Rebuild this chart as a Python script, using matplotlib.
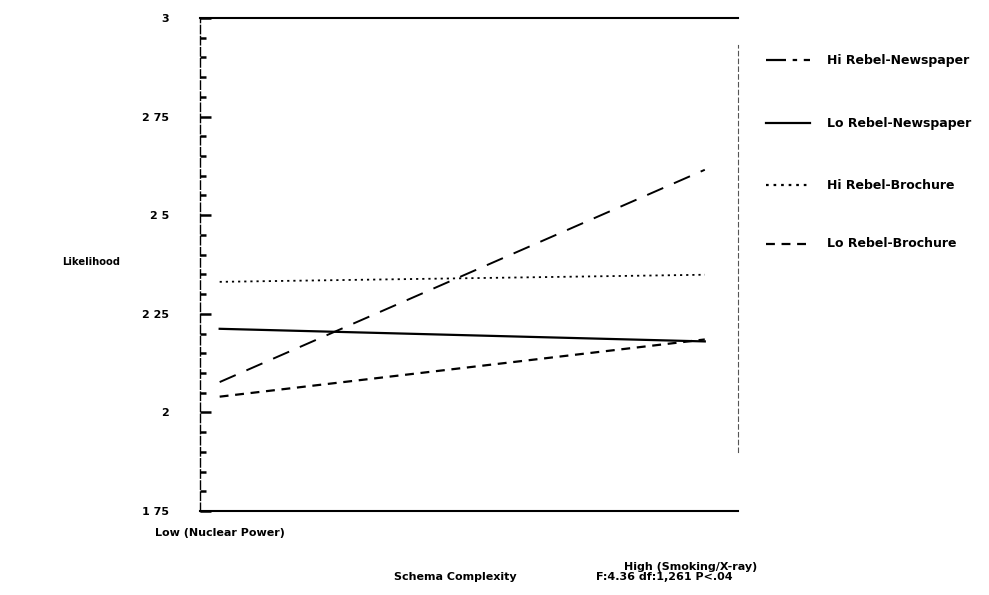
import matplotlib.pyplot as plt
from matplotlib.ticker import MultipleLocator

plt.rcParams['font.family'] = ['DejaVu Sans']

conditions = ['Low (Nuclear Power)', 'High (Smoking/X-ray)']
series_names = ['Hi Rebel-Newspaper', 'Lo Rebel-Newspaper', 'Hi Rebel-Brochure', 'Lo Rebel-Brochure']
hi_rebel_newspaper = [2.077, 2.615]
lo_rebel_newspaper = [2.212, 2.180]
hi_rebel_brochure = [2.331, 2.349]
lo_rebel_brochure = [2.040, 2.185]
y_ticks = [1.75, 2.0, 2.25, 2.5, 2.75, 3.0]
y_tick_labels = ['1 75', '2', '2 25', '2 5', '2 75', '3']

fig = plt.figure(figsize=(9.89, 5.95), dpi=100)
ax = fig.add_axes([0.202, 0.141, 0.544, 0.829])

x = [0, 1]
ax.plot(x, hi_rebel_newspaper, color='black', lw=1.4, dashes=(9, 6))
ax.plot(x, lo_rebel_newspaper, color='black', lw=1.6, ls='-')
ax.plot(x, hi_rebel_brochure, color='black', lw=1.3, dashes=(1.2, 2.2))
ax.plot(x, lo_rebel_brochure, color='black', lw=1.6, dashes=(4, 3))

ax.set_xlim(-0.041, 1.068)
ax.set_ylim(1.75, 3.0)
ax.set_xticks([])
ax.set_yticks(y_ticks)
ax.set_yticklabels(y_tick_labels, fontsize=8, fontweight='bold')
ax.yaxis.set_minor_locator(MultipleLocator(0.05))
ax.tick_params(axis='y', which='major', direction='in', length=8, width=1.8, pad=22)
ax.tick_params(axis='y', which='minor', direction='in', length=4, width=1.8)

ax.spines['left'].set_linestyle((0, (6, 2)))
ax.spines['left'].set_linewidth(1.0)
ax.spines['top'].set_linewidth(1.5)
ax.spines['bottom'].set_linewidth(1.5)
ax.spines['right'].set_linestyle((0, (4, 3)))
ax.spines['right'].set_linewidth(0.8)
ax.spines['right'].set_bounds(1.9, 2.93)
ax.spines['right'].set_color('#555555')

# x category labels
ax.text(x[0], 1.694, conditions[0], ha='center', va='center', fontsize=8, fontweight='bold')
ax.text(x[1] - 0.03, 1.608, conditions[1], ha='center', va='center', fontsize=8, fontweight='bold')
fig.text(0.063, 0.559, 'Likelihood', ha='left', va='center', fontsize=7.2, fontweight='bold')
fig.text(0.46, 0.030, 'Schema Complexity', ha='center', va='center', fontsize=8, fontweight='bold')
fig.text(0.672, 0.030, 'F:4.36 df:1,261 P<.04', ha='center', va='center', fontsize=8, fontweight='bold')

# legend drawn by hand to keep the wide spacing of the original
styles = [dict(dashes=(9, 3, 2, 3)), dict(ls='-'), dict(dashes=(1.2, 2.2)), dict(dashes=(4, 3))]
leg_y = [0.899, 0.793, 0.689, 0.590]
for name, st, yy in zip(series_names, styles, leg_y):
    fig.add_artist(plt.Line2D([0.775, 0.819], [yy, yy], color='black', lw=1.6, **st))
    fig.text(0.836, yy, name, ha='left', va='center', fontsize=9, fontweight='bold')

fig.savefig('out.png', dpi=100)
